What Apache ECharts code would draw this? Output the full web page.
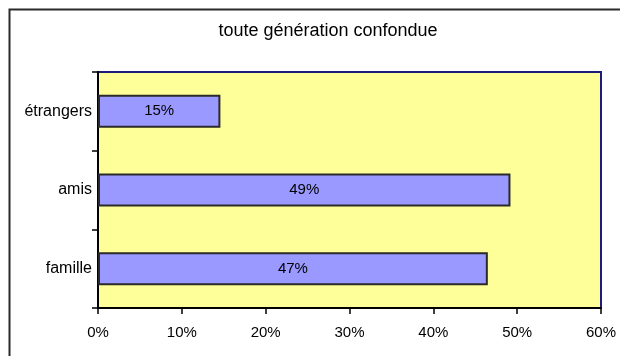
<!DOCTYPE html>
<html>
<head>
<meta charset="utf-8">
<script src="https://cdn.jsdelivr.net/npm/echarts@6/dist/echarts.min.js"></script>
<style>
  html, body { margin: 0; padding: 0; background: #ffffff; }
  #chart { width: 620px; height: 356px; }
</style>
</head>
<body>
<div id="chart"></div>
<script>
// Share of each group, in percent (bottom to top)
const categories = ['famille', 'amis', 'étrangers'];
const shares = [46.5, 49.2, 14.6];
const chartTitle = 'toute génération confondue';
const axisMax = 60;
const axisStep = 10;

const FONT = '"Liberation Sans", Arial, sans-serif';

const chart = echarts.init(document.getElementById('chart'), null, { renderer: 'canvas' });

chart.setOption({
  backgroundColor: '#ffffff',
  animation: false,
  title: {
    text: chartTitle,
    left: 323,
    top: 17,
    textAlign: 'center',
    textStyle: { fontFamily: FONT, fontSize: 18, fontWeight: 'normal', color: '#000000' }
  },
  graphic: [{
    type: 'rect',
    shape: { x: 9.5, y: 9.5, width: 700, height: 500 },
    style: { fill: 'none', stroke: '#2a2a2a', lineWidth: 2 },
    silent: true,
    z: 100
  }],
  grid: {
    left: 98,
    right: 19,
    top: 72,
    bottom: 48,
    show: true,
    backgroundColor: '#FFFF99',
    borderColor: '#1c1c7a',
    borderWidth: 2
  },
  xAxis: {
    type: 'value',
    min: 0,
    max: axisMax,
    interval: axisStep,
    axisLine: { show: true, lineStyle: { color: '#000000', width: 2 } },
    axisTick: { show: true, length: 6, lineStyle: { color: '#000000', width: 1.5 } },
    splitLine: { show: false },
    axisLabel: {
      formatter: '{value}%',
      margin: 17,
      fontFamily: FONT,
      fontSize: 15,
      color: '#000000'
    }
  },
  yAxis: {
    type: 'category',
    data: categories,
    axisLine: { show: true, lineStyle: { color: '#000000', width: 2 } },
    axisTick: { show: true, length: 6, lineStyle: { color: '#000000', width: 1.5 } },
    axisLabel: {
      margin: 6,
      fontFamily: FONT,
      fontSize: 16,
      color: '#000000'
    }
  },
  series: [{
    type: 'bar',
    data: shares,
    barWidth: 33,
    itemStyle: { color: '#9999FF', borderColor: '#2a2a2a', borderWidth: 2 },
    label: {
      show: true,
      position: 'inside',
      formatter: p => Math.round(p.value) + '%',
      fontFamily: FONT,
      fontSize: 15,
      color: '#000000'
    }
  }]
});
</script>
</body>
</html>
